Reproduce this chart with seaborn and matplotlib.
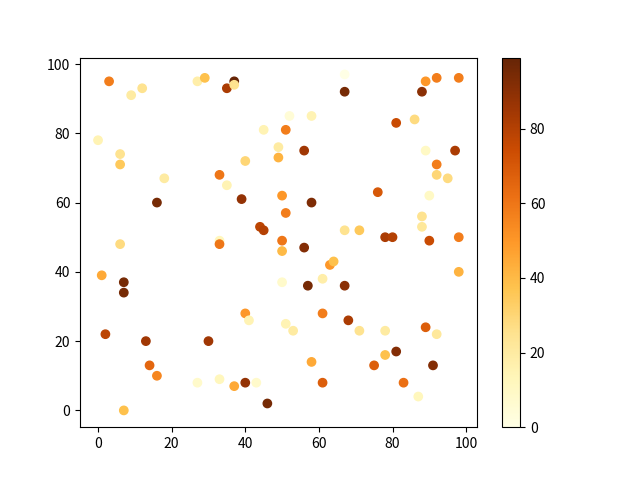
import matplotlib
matplotlib.use("Agg")
import matplotlib.pyplot as plt
import seaborn as sns
import pandas as pd

plt.rcParams['font.family'] = ['Noto Sans CJK SC', 'DejaVu Sans']

x_vals = [3, 9, 12, 27, 29, 35, 37, 37, 45, 49, 49, 0, 6, 6, 18, 40, 33, 35, 16, 39,
          44, 45, 50, 67, 67, 89, 92, 98, 88, 52, 58, 51, 81, 86, 56, 89, 97, 92, 92, 95,
          58, 76, 90, 51, 88, 88, 67, 71, 78, 80, 90, 98, 50, 50, 56, 63, 64, 98, 50, 57,
          61, 67, 61, 68, 51, 53, 71, 78, 89, 92, 58, 78, 81, 75, 91, 61, 83, 87,
          6, 33, 33, 1, 7, 7, 40, 41, 2, 13, 30, 14, 16, 27, 33, 37, 40, 43, 46, 7]
y_vals = [95, 91, 93, 95, 96, 93, 95, 94, 81, 76, 73, 78, 74, 71, 67, 72, 68, 65, 60, 61,
          53, 52, 62, 97, 92, 95, 96, 96, 92, 85, 85, 81, 83, 84, 75, 75, 75, 71, 68, 67,
          60, 63, 62, 57, 56, 53, 52, 52, 50, 50, 49, 50, 49, 46, 47, 42, 43, 40, 37, 36,
          38, 36, 28, 26, 25, 23, 23, 23, 24, 22, 14, 16, 17, 13, 13, 8, 8, 4,
          48, 49, 48, 39, 37, 34, 28, 26, 22, 20, 20, 13, 10, 8, 9, 7, 8, 8, 2, 0]
c_vals = [58, 20, 25, 18, 38, 82, 99, 25, 15, 20, 42, 15, 25, 35, 20, 30, 60, 15, 95, 88,
          78, 80, 50, 0, 95, 50, 58, 58, 90, 5, 15, 58, 75, 28, 85, 10, 82, 58, 30, 28,
          93, 70, 10, 58, 25, 22, 25, 35, 82, 80, 75, 58, 60, 40, 92, 50, 38, 42, 8, 95,
          18, 90, 58, 82, 15, 20, 25, 20, 68, 22, 45, 38, 92, 68, 92, 68, 62, 12,
          28, 12, 60, 45, 95, 95, 50, 15, 78, 85, 85, 65, 55, 8, 12, 45, 88, 8, 95, 38]

df = pd.DataFrame({"x": x_vals, "y": y_vals, "c": c_vals})

fig, ax = plt.subplots(figsize=(6.4, 4.8), dpi=100)
sns.scatterplot(data=df, x="x", y="y", c=df["c"], cmap="YlOrBr", s=36,
                edgecolor="face", linewidth=1, ax=ax)
points = ax.collections[0]
points.set_clim(0, 99)
fig.colorbar(points, ax=ax)
ax.set_xlabel("")
ax.set_ylabel("")

fig.savefig("out.png")
